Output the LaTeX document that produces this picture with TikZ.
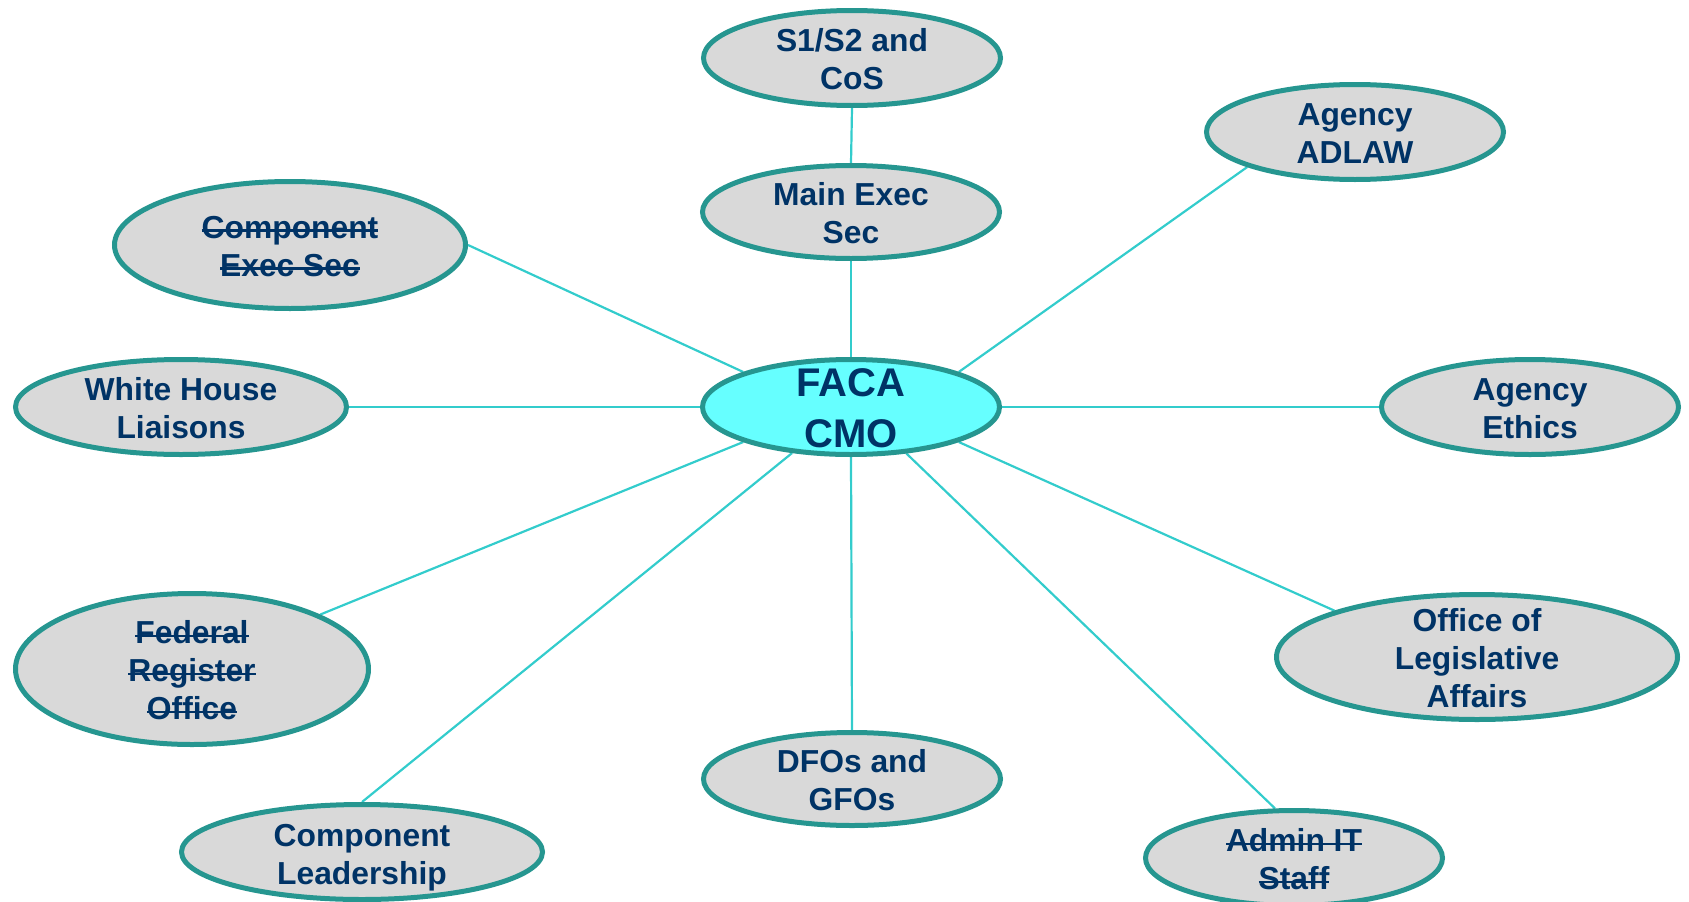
\documentclass[tikz,border=0pt]{standalone}
\usepackage{fontspec}
\setmainfont{Liberation Sans}
\usepackage{xcolor}
\usetikzlibrary{positioning, shapes.geometric, backgrounds}

\definecolor{rim}{RGB}{38,150,144}
\definecolor{bubblegray}{RGB}{217,217,217}
\definecolor{hubcyan}{RGB}{102,255,255}
\definecolor{navy}{RGB}{0,51,102}
\definecolor{linkcyan}{RGB}{51,204,204}
\newcommand{\strk}[1]{\setbox0\hbox{#1}\rlap{\rule[0.21em]{\wd0}{2.4pt}}\box0}

\begin{document}
\begin{tikzpicture}[x=1pt, y=-1pt,
    bubble/.style={ellipse, draw=rim, fill=bubblegray, line width=5pt, inner sep=0pt,
        minimum width=297pt, minimum height=95pt},
    lbl/.style={font=\fontsize{31.8}{38}\selectfont\bfseries, text=navy, align=center, yshift=-1.5pt},
    link/.style={draw=linkcyan, line width=2.2pt}]
        \useasboundingbox (0,0) rectangle (1689,902);
        % hub
        \node[bubble, fill=hubcyan, label={[lbl, font=\fontsize{40}{51}\selectfont\bfseries]center:FACA\\CMO}] (cmo) at (851,407) {};
        % spokes
        \node[bubble, label={[lbl]center:S1/S2 and\\CoS}] (cos) at (852,58) {};
        \node[bubble, minimum height=93pt, label={[lbl]center:Main Exec\\Sec}] (mes) at (851,212) {};
        \node[bubble, label={[lbl]center:Agency\\ADLAW}] (adlaw) at (1355,132) {};
        \node[bubble, minimum width=351pt, minimum height=127pt, label={[lbl]center:\strk{Component}\\\strk{Exec Sec}}] (ces) at (290,245) {};
        \node[bubble, minimum width=331pt, label={[lbl]center:White House\\Liaisons}] (whl) at (181,407) {};
        \node[bubble, label={[lbl]center:Agency\\Ethics}] (ethics) at (1530,407) {};
        \node[bubble, minimum width=353pt, minimum height=151pt, label={[lbl]center:\strk{Federal}\\\strk{Register}\\\strk{Office}}] (fro) at (192,669) {};
        \node[bubble, minimum width=401pt, minimum height=125pt, label={[lbl]center:Office of\\Legislative\\Affairs}] (ola) at (1477,657) {};
        \node[bubble, minimum height=93pt, label={[lbl]center:DFOs and\\GFOs}] (dfo) at (852,779) {};
        \node[bubble, minimum width=361pt, label={[lbl, yshift=-4pt]center:Component\\Leadership}] (cl) at (362,852) {};
        \node[bubble, label={[lbl]center:\strk{Admin IT}\\\strk{Staff}}] (adm) at (1294,858) {};
        \begin{scope}[on background layer]
            \draw[link] (cmo.north) -- (mes.south);
            \draw[link] (mes.north) -- (cos.south);
            \draw[link] (cmo.18) -- (adlaw.198);
            \draw[link] (cmo.162) -- (ces.east);
            \draw[link] (cmo.west) -- (whl.east);
            \draw[link] (cmo.east) -- (ethics.west);
            \draw[link] (cmo.198) -- (fro.23);
            \draw[link] (cmo.218) -- (cl.north);
            \draw[link] (cmo.south) -- (dfo.north);
            \draw[link] (cmo.320) -- (adm.111);
            \draw[link] (cmo.342) -- (ola.162);
        \end{scope}
    \end{tikzpicture}
\end{document}
